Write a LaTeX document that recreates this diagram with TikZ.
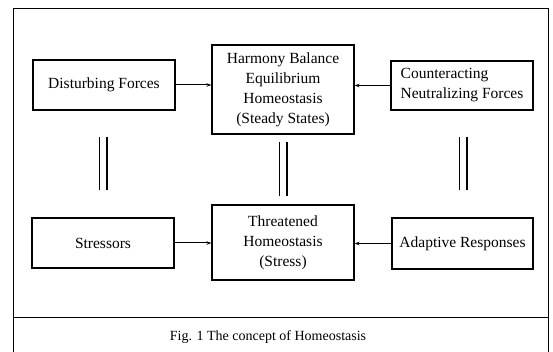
\documentclass[tikz,border=0pt]{standalone}
\usepackage{fontspec}
\setmainfont{Liberation Serif}
\usetikzlibrary{arrows.meta}
\begin{document}
\begin{tikzpicture}[x=1pt,y=-1pt,
  box/.style={draw,line width=1.1pt,inner sep=0pt,align=center,
    font=\fontsize{15.5}{20}\selectfont},
  arr/.style={line width=1pt,-{Stealth[length=5pt,width=3.5pt]}},
  eq/.style={line width=1.1pt,double,double distance=6.8pt},
  frame/.style={line width=0.9pt}]
\useasboundingbox (0,0) rectangle (553,352);
\draw[frame] (13,352) -- (13,8) -- (548,8) -- (548,352);
\coordinate (sepL) at (13,317);
\coordinate (sepR) at (548,317);
\draw[frame] (sepL) -- (sepR);
\node[font=\fontsize{14}{16}\selectfont] (cap) at (268,337) {Fig. 1 The concept of Homeostasis};

\node[box,minimum width=142pt,minimum height=50pt] (dist) at (104,85) {Disturbing Forces};
\node[box,minimum width=142pt,minimum height=89pt] (harm) at (283,89.5)
  {Harmony Balance\\Equilibrium\\Homeostasis\\(Steady States)};
\node[box,minimum width=142pt,minimum height=49pt,align=left] (coun) at (462,85.5)
  {Counteracting\\Neutralizing Forces};
\node[box,minimum width=142pt,minimum height=50pt] (stre) at (103,243) {Stressors};
\node[box,minimum width=142pt,minimum height=75pt] (thre) at (283,242.5)
  {Threatened\\Homeostasis\\(Stress)};
\node[box,minimum width=141pt,minimum height=51pt] (adap) at (462.5,243.5) {Adaptive Responses};

\draw[arr] (dist.east) -- (harm.west |- dist.east);
\draw[arr] (coun.west) -- (harm.east |- coun.west);
\draw[arr] (stre.east) -- (thre.west |- stre.east);
\draw[arr] (adap.west) -- (thre.east |- adap.west);

\draw[eq,shorten <=26pt,shorten >=27pt] ([xshift=-1pt]dist.south) -- ([xshift=-1pt]dist.south |- stre.north);
\draw[eq,shorten <=7pt,shorten >=8pt] (harm.south) -- (thre.north);
\draw[eq,shorten <=26pt,shorten >=27pt] ([xshift=1pt]coun.south) -- ([xshift=1pt]coun.south |- adap.north);
\end{tikzpicture}
\end{document}
